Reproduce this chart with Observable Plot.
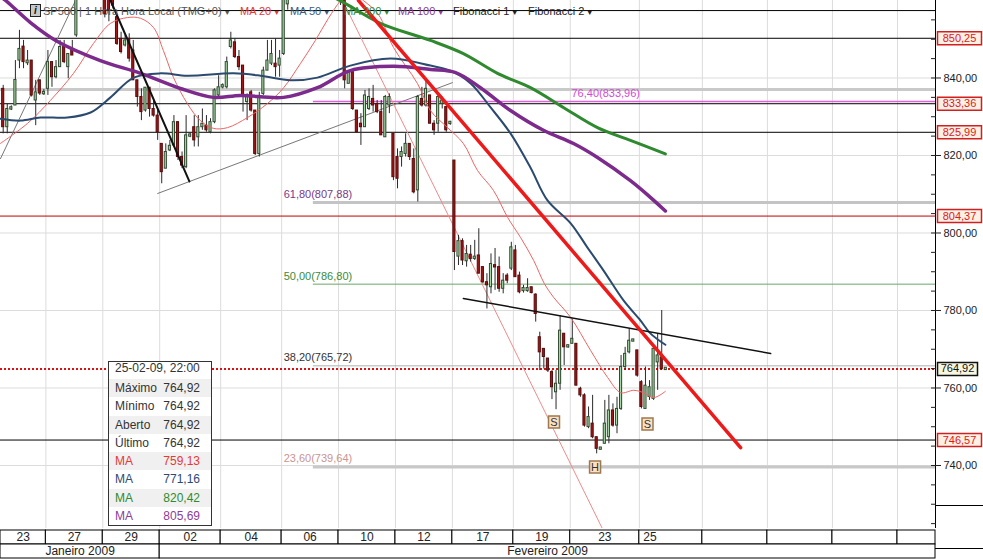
<!DOCTYPE html>
<html><head><meta charset="utf-8">
<script src="https://cdn.jsdelivr.net/npm/d3@7"></script>
<script src="https://cdn.jsdelivr.net/npm/@observablehq/plot@0.6"></script>
<style>
body{margin:0;background:#fff;font-family:"Liberation Sans",Arial,sans-serif;}
#wrap{position:relative;width:983px;height:560px;overflow:hidden;background:#fff;}
#wrap svg{display:block;}
#legend{position:absolute;top:3px;left:0;width:983px;height:16px;font-size:11px;white-space:nowrap;}
#legend span{position:absolute;top:0;line-height:16px;}
#legend .ic{top:1px;width:9px;height:11px;line-height:11px;border:1px solid #222;background:#c8c8c8;font-size:10px;font-style:italic;font-weight:bold;text-align:center;color:#111;}
.arr{font-size:7px;margin-left:2px;position:relative;top:-1px;}
#info{position:absolute;left:108px;top:361px;width:102px;border:1px solid #333;background:#fff;font-size:12px;color:#333;}
#info .r{height:18.3px;line-height:18.3px;padding:0 11px 0 6px;display:flex;justify-content:space-between;}
#info .r.h{height:17px;line-height:13px;}
#info .r.s{background:#f0f0f0;}
#rbox{position:absolute;left:935px;top:505px;width:48px;height:42px;border-top:1px solid #000;border-bottom:1px solid #000;}
</style></head>
<body><div id="wrap"></div>
<script>
// ---------- Data ----------
const opens = [
837.2,827.3,832.0,832.9,844.5,848.1,843.8,844.5,834.2,839.4,
836.0,837.2,844.1,840.2,842.8,848.0,842.8,847.5,851.0,863,
867,871,869,873,872,866,861,862,855.7,850.1,
848.4,850.1,847.1,839.4,835.1,831.6,837.5,832.0,830.3,823.0,
816.6,821.3,822.6,828.6,819.6,817.0,825.0,827.3,824.7,827.3,
827.7,826.0,828.6,835.5,837.8,837.6,848.0,849.2,845.4,843.2,
833.8,836.3,831.6,820.4,835.9,841.9,843.7,843.7,843.2,846.2,
859.0,864,866,865,868,867,869,866,868,870,
867,869,866,866,866,838.5,841.5,831.6,828.2,827.3,
832.0,834.6,833.3,831.2,824.7,832.9,825.6,819.6,819.6,820.4,
823.0,819.1,811.0,834.6,832.9,835.5,828.2,828.2,833.3,832.5,
828.2,818.7,793.9,797.9,792.7,794.4,793.3,794.2,791.2,787.3,
786.0,791.6,791.2,785.6,789.0,790.8,795.5,789.0,785.0,785.0,
786.0,784.1,773.1,770.1,767.6,764.1,758.9,761.1,774.0,770.6,
771.4,771.4,759.8,758.1,749.9,750.8,747.3,744.3,745.6,747.3,
754.2,750.3,754.6,765.4,769.2,772.2,769.7,761.5,754.6,757.7,
757.2,766.6,767.9,764.92];
const highs = [
838.1,833.3,832.8,844.5,852.3,849.7,847.1,844.5,839.4,839.4,
837.0,847.1,844.1,844.5,849.7,849.7,846.2,849.7,865.0,868,
873,874,875,876,874,868,862,863,856.5,851.8,
851.0,851.4,849.7,839.4,837.2,837.5,837.5,834.2,832.0,823.0,
823.0,823.9,830.3,828.6,820.9,830.3,825.8,830.3,830.3,832.0,
830.3,829.5,837.2,840.6,838.5,845.4,851.8,850.1,847.1,843.2,
835.9,836.8,831.6,836.3,842.8,849.7,849.7,850.1,847.1,863.0,
866,867,868,869,870,871,870,869,872,871,
870,870,869,867,867,841.5,841.9,831.6,830.8,836.8,
837.2,838.1,834.2,834.2,835.5,835.9,825.6,821.7,822.2,825.6,
823.0,821.7,835.5,837.6,839.4,835.5,829.0,835.9,835.1,832.5,
828.8,818.7,799.4,798.5,796.8,796.8,798.1,801.1,791.2,789.5,
794.6,796.0,793.8,789.5,789.5,797.6,796.8,789.9,786.5,788.2,
786.0,784.3,774.4,770.1,767.6,764.5,764.5,778.7,774.0,771.0,
777.8,771.4,760.2,758.5,755.1,758.1,747.3,744.6,756.8,758.1,
755.9,757.6,768.4,770.5,775.3,772.5,769.7,761.9,765.4,761.9,
770.5,774.0,780.0,764.92];
const lows = [
825.6,825.6,831.6,832.9,842.4,842.4,843.2,835.1,827.7,835.5,
835.5,835.5,837.6,839.8,842.8,843.7,839.8,845.8,850.5,862,
866,867,868,870,866,855.5,854.5,857.8,848.4,846.2,
848.0,844.1,839.4,832.5,829.0,831.2,829.9,829.9,823.9,812.7,
816.6,821.0,822.2,818.7,816.6,816.6,824.6,822.2,822.2,826.5,
826.0,825.6,828.2,835.1,837.2,837.2,847.5,845.0,841.9,831.2,
829.0,831.2,820.0,819.6,835.5,841.9,843.2,840.2,840.2,845.8,
857.5,863,864,864,866,866,865,864,867,866,
866,864,862,858.7,837.2,838.5,831.6,826.0,822.6,827.3,
831.6,831.2,830.8,825.2,824.7,830.8,813.5,811.4,817.0,819.6,
818.7,810.1,808.0,832.5,832.5,828.2,825.2,826.0,832.0,826.0,
827.8,790.3,791.6,791.6,791.2,792.5,792.9,789.5,786.9,780.4,
784.3,785.2,784.7,784.3,786.9,790.3,788.6,784.3,784.5,784.7,
784.3,777.0,764.5,764.9,764.0,757.0,754.4,759.4,765.8,770.3,
771.4,760.6,757.6,749.9,749.5,746.9,743.0,744.0,745.6,745.6,
749.9,748.2,754.2,764.5,768.8,772.0,762.8,754.6,754.6,756.8,
756.8,759.4,764.5,764.92];
const closes = [
827.3,832.0,832.3,839.5,847.5,844.1,844.5,835.5,836.3,836.0,
836.2,844.1,840.2,842.8,848.0,844.1,846.2,845.8,863.0,867,
871,869,873,872,868,856.5,857.5,858.7,848.8,846.7,
849.7,845.0,839.4,835.1,831.2,837.5,832.0,830.3,826.0,815.7,
820.9,822.5,828.6,819.6,817.4,825.2,825.3,823.9,827.3,828.2,
826.5,828.6,836.8,837.6,837.9,844.1,849.7,845.4,842.8,835.1,
835.1,831.6,820.4,835.1,841.9,844.5,846.2,842.8,845.0,861.0,
864,866,865,868,867,869,866,868,870,867,
869,866,868,862,839.4,841.5,832.0,826.0,827.3,835.5,
835.1,832.9,831.2,825.2,835.1,835.1,814.4,814.0,820.9,823.0,
819.6,810.5,835.1,832.9,837.2,828.2,826.5,835.1,834.2,826.5,
828.6,795.1,797.9,792.9,794.6,793.3,793.9,789.5,787.3,786.5,
792.0,791.2,785.6,787.7,787.7,796.3,788.6,784.7,785.8,785.8,
784.5,779.1,769.2,768.0,764.5,760.2,761.1,774.8,770.5,770.9,
772.7,760.6,758.1,750.3,752.5,747.3,744.3,744.4,750.8,754.2,
750.3,754.6,765.4,768.8,772.2,772.3,763.2,755.1,760.6,760.2,
770.1,768.4,764.9,764.92];

// moving averages read at sample points (bar index, value)
const ma20Idx = [-0.7,6.0,11.6,17.3,22.2,26.4,30.6,33.8,37.0,39.4,41.9,45.3,48.5,51.7,55.2,60.1,65.0,69.0,73.1,76.8,80.0,83.0,85.4,88.6,92.3,96.0,101.9,105.1,109.3,113.2,116.7,120.6,124.1,127.3,130.5,133.1,135.4,139.6,144.5,148.7,151.9,155.1,157.5,160.0,162.9];
const ma20Val = [823.1,828.3,834.2,841.2,848.9,854.1,855.6,855.4,853.0,847.1,840.1,833.4,829.0,827.0,827.2,829.8,833.4,837.5,843.7,849.7,855.4,860.0,862.5,860.0,856.4,847.9,838.6,831.6,827.2,823.1,816.1,811.0,804.0,798.8,792.9,787.0,783.4,778.2,769.7,762.7,758.8,759.4,758.8,757.5,759.13];
const ma50Idx = [-0.7,4.3,9.2,15.8,21.5,26.4,32.1,38.7,45.3,56.7,63.3,70.7,77.3,85.4,95.3,105.1,110.0,115.0,119.9,124.8,129.7,133.9,139.6,143.7,147.7,152.6,156.8,159.2,162.9];
const ma50Val = [829.5,829.0,829.8,829.8,831.1,835.0,840.1,841.2,840.6,841.2,840.6,839.4,840.1,843.2,845.0,843.2,841.9,838.6,832.4,825.7,816.9,808.4,802.5,796.3,790.3,782.6,777.4,774.1,771.16];
const ma100Idx = [-0.7,0.6,6.7,12.9,23.9,33.8,43.6,51.7,58.4,69.0,77.3,85.4,96.0,105.1,111.3,117.4,124.8,132.9,140.3,146.2,154.3,159.2,162.9];
const ma100Val = [861.0,860.0,854.3,849.7,844.5,841.2,837.3,835.0,835.5,835.0,837.5,841.9,843.0,842.2,841.4,837.5,831.6,826.5,823.1,819.5,813.5,809.2,805.69];
const ma200Idx = [80.0,83.7,92.8,105.1,113.2,121.6,129.7,137.8,146.2,154.3,162.9];
const ma200Val = [861.5,859.5,854.1,849.7,846.3,841.2,837.5,832.4,827.2,823.9,820.42];

// drawn trend lines: [bar index, price]
const redTrend = [[87.4, 860.0], [181.4, 744.6]];
const blackTrend = [[26.4, 860.0], [45.8, 813.3]];
const grayTrendA = [[-0.66, 819.2], [17.8, 860.0]];
const grayTrendB = [[38.0, 810.2], [110.5, 838.8]];
const neckline = [[113.2, 783.1], [188.8, 768.9]];
const channelLine = [[83.5, 860.0], [147.4, 723.7]];

// horizontal levels
const blackLevels = [857.4, 850.25, 833.36, 825.99, 746.57];
const redLevels = [804.37];
const grayLevels = [837.0];
const lastPrice = 764.92;
const axisRedBoxes = [850.25, 833.36, 825.99, 804.37, 746.57];

// Fibonacci levels
const fibPct = ["76,40", "61,80", "50,00", "38,20", "23,60"];
const fibVal = [833.96, 807.88, 786.80, 765.72, 739.64];
const fibStart = 76.3;
const fibLabelAt = [139.8, 69.0, 69.0, 69.0, 69.0];

// pattern markers
const markText = ["S", "H", "S"];
const markIdx = [135.5, 145.6, 158.5];
const markVal = [751.2, 739.6, 750.7];

// axes
const yMajor = [740, 760, 780, 800, 820, 840];
const yMinor = d3.range(725, 860, 5);
const daySeps = [10.5, 24.5, 38.5, 53.5, 68.5, 82.5, 96.5, 110.5, 125.5, 139.5, 156.5, 172, 188, 204, 220];
const dayLabels = ["23","27","29","02","04","06","10","12","17","19","23","25","","","",""];
const monthSeps = [38.5];
const monthLabels = ["Janeiro 2009", "Fevereiro 2009"];

// info box
const infoHeader = "25-02-09, 22:00";
const infoLabels = ["Máximo","Mínimo","Aberto","Último","MA","MA","MA","MA"];
const infoValues = [764.92, 764.92, 764.92, 764.92, 759.13, 771.16, 820.42, 805.69];

// legend
const legendTexts = ["SP500 | 1 Hora Hora Local (TMG+0)", "MA 20", "MA 50", "MA 200", "MA 100", "Fibonacci 1", "Fibonacci 2"];

// ---------- styles ----------
const C = {ma20:"#ef6464", ma50:"#2b4a6f", ma100:"#7d2a8d", ma200:"#2f8a2f", red:"#ee1a1a"};
const infoColors = ["#333","#333","#333","#333","#e53935","#2f4a74","#2e8b2e","#8b3d99"];
const fibColors = ["#d548d5","#7a3a8a","#3a8a3a","#333","#c99494"];
const fibLine = [{s:"#e060e0",w:1.5},{s:"#c4c4c4",w:3},{s:"#6aa66a",w:1},{s:"#b0b0b0",w:1},{s:"#c8c8c8",w:3}];
const legendColors = ["#555", "#e53935", "#3a5a80", "#2e8b2e", "#8b3d99", "#222", "#222"];
const legendLeft = [43, 240, 290, 344, 398, 453, 528];

const fmt = v => v.toFixed(2).replace(".", ",");
const xMin = -0.664, xMax = 229.35;
const W = 983, H = 528;

const bars = opens.map((o, i) => {
  const c = closes[i];
  let b0 = Math.min(o, c), b1 = Math.max(o, c);
  if (b1 - b0 < 0.5) { const m = (b0 + b1) / 2; b0 = m - 0.3; b1 = m + 0.3; }
  return {i, o, h: highs[i], l: lows[i], c, b0, b1};
});
const up = bars.filter(d => d.c >= d.o), down = bars.filter(d => d.c < d.o);
const pts = (xs, ys) => xs.map((x, k) => ({x, y: ys[k]}));
const boxSymbol = (w, h) => ({draw(ctx) { ctx.rect(-w / 2, -h / 2, w, h); }});
const seg = (arr, opts) => Plot.line(arr, {x: d => d[0], y: d => d[1], clip: true, ...opts});

const marks = [
  Plot.ruleY(yMajor, {stroke: "#dcdcdc"}),
  Plot.ruleX(daySeps, {stroke: "#dcdcdc"}),
  Plot.ruleY(grayLevels, {stroke: "#c9c9c9", strokeWidth: 3}),
  ...fibVal.map((v, k) => Plot.ruleY([v], {x1: () => fibStart, x2: () => xMax, stroke: fibLine[k].s, strokeWidth: fibLine[k].w})),
  Plot.ruleY(blackLevels, {stroke: "#000"}),
  Plot.ruleY(redLevels, {stroke: "#c00000"}),
  Plot.ruleY([lastPrice], {stroke: "#e01010", strokeWidth: 2, strokeDasharray: "2,2"}),
  ...fibVal.map((v, k) => Plot.text([v], {x: () => fibLabelAt[k], y: d => d, text: d => `${fibPct[k]}(${fmt(d)})`, textAnchor: "start", dy: -8, fill: fibColors[k], fontSize: 11})),
  seg(grayTrendA, {stroke: "#777", strokeWidth: 1}),
  seg(grayTrendB, {stroke: "#777", strokeWidth: 1}),
  seg(channelLine, {stroke: "#f08a8a", strokeWidth: 1}),
  Plot.ruleX(bars, {x: "i", y1: "l", y2: "h", stroke: "#2a2a2a", strokeWidth: 1, clip: true}),
  Plot.rect(up, {x1: d => d.i - 0.26, x2: d => d.i + 0.26, y1: "b0", y2: "b1", fill: "#a8dca8", stroke: "#2f4a2f", strokeWidth: 1, clip: true}),
  Plot.rect(down, {x1: d => d.i - 0.26, x2: d => d.i + 0.26, y1: "b0", y2: "b1", fill: "#a01818", stroke: "#5a0a0a", strokeWidth: 1, clip: true}),
  Plot.line(pts(ma20Idx, ma20Val), {x: "x", y: "y", stroke: C.ma20, strokeWidth: 1, curve: "catmull-rom", clip: true}),
  Plot.line(pts(ma50Idx, ma50Val), {x: "x", y: "y", stroke: C.ma50, strokeWidth: 2, curve: "catmull-rom", clip: true}),
  Plot.line(pts(ma100Idx, ma100Val), {x: "x", y: "y", stroke: C.ma100, strokeWidth: 3.5, curve: "catmull-rom", clip: true}),
  Plot.line(pts(ma200Idx, ma200Val), {x: "x", y: "y", stroke: C.ma200, strokeWidth: 3, curve: "catmull-rom", clip: true}),
  seg(blackTrend, {stroke: "#111", strokeWidth: 2}),
  seg(neckline, {stroke: "#111", strokeWidth: 1.5}),
  seg(redTrend, {stroke: C.red, strokeWidth: 3.5}),
  Plot.dot(markText, {x: (d, k) => markIdx[k], y: (d, k) => markVal[k], symbol: boxSymbol(11, 12), fill: "#fbe0c2", stroke: "#a0784f"}),
  Plot.text(markText, {x: (d, k) => markIdx[k], y: (d, k) => markVal[k], text: d => d, fill: "#333", fontSize: 11}),
  Plot.ruleX([xMax], {stroke: "#000"}),
  Plot.axisY(yMinor, {anchor: "right", tickSize: 5, dx: -5, tickFormat: () => "", label: null}),
  Plot.axisY(yMajor, {anchor: "right", tickSize: 5, tickPadding: 3, tickFormat: fmt, fontSize: 11, label: null}),
  Plot.dot(axisRedBoxes, {x: () => xMax, y: d => d, dx: 24, symbol: boxSymbol(44, 13), fill: "#fdf1e6", stroke: "#d02020"}),
  Plot.text(axisRedBoxes, {x: () => xMax, y: d => d, dx: 24, text: fmt, fill: "#e01818", fontSize: 11}),
  Plot.dot([lastPrice], {x: () => xMax, y: d => d, dx: 22, symbol: boxSymbol(40, 13), fill: "#f7f7e1", stroke: "#111"}),
  Plot.text([lastPrice], {x: () => xMax, y: d => d, dx: 22, text: fmt, fill: "#111", fontSize: 11})
];

const chart = Plot.plot({
  width: W, height: H,
  marginTop: 0, marginBottom: 0, marginLeft: 0, marginRight: 48,
  x: {domain: [xMin, xMax], axis: null},
  y: {domain: [723.74, 860]},
  style: {fontFamily: "Liberation Sans, Arial, sans-serif", fontSize: "11px", color: "#222", background: "white"},
  marks
});

// date band
const edges = [xMin, ...daySeps, xMax];
const dayCells = dayLabels.map((t, k) => ({x1: edges[k], x2: edges[k + 1], t, k}));
const lastLabeled = dayLabels.filter(t => t !== "").length - 1;
const mEdges = [xMin, ...monthSeps, xMax];
const monthCells = monthLabels.map((t, k) => ({x1: mEdges[k], x2: mEdges[k + 1], t}));

const dateBar = Plot.plot({
  width: W, height: 32,
  marginTop: 1, marginBottom: 2, marginLeft: 0, marginRight: 48,
  x: {domain: [xMin, xMax], axis: null},
  y: {type: "band", domain: ["d", "m"], padding: 0, axis: null},
  style: {fontFamily: "Liberation Sans, Arial, sans-serif", fontSize: "12px", color: "#222", background: "white"},
  marks: [
    Plot.barX(dayCells, {x1: "x1", x2: "x2", y: () => "d", fill: "white", stroke: "#000"}),
    Plot.barX(monthCells, {x1: "x1", x2: "x2", y: () => "m", fill: "white", stroke: "#000"}),
    Plot.text(dayCells.filter(d => d.k !== lastLabeled), {x: d => (d.x1 + d.x2) / 2, y: () => "d", text: "t", fontSize: 12, fill: "#222"}),
    Plot.text(dayCells.filter(d => d.k === lastLabeled), {x: "x1", y: () => "d", text: "t", textAnchor: "start", dx: 4, fontSize: 12, fill: "#222"}),
    Plot.text(monthCells, {x: d => (d.x1 + d.x2) / 2, y: () => "m", text: "t", fontSize: 12, fill: "#222"})
  ]
});

const wrap = document.getElementById("wrap");
wrap.appendChild(chart);
wrap.appendChild(dateBar);

// legend
const legend = document.createElement("div");
legend.id = "legend";
legend.innerHTML = `<span class="ic" style="left:30px">i</span>` +
  legendTexts.map((t, k) => `<span style="left:${legendLeft[k]}px;color:${legendColors[k]}">${t}<span class="arr" style="position:relative;color:${legendColors[k]}">▼</span></span>`).join("");
wrap.appendChild(legend);

// info box
const info = document.createElement("div");
info.id = "info";
info.innerHTML = `<div class="r h"><span>${infoHeader}</span></div>` +
  infoLabels.map((l, k) => `<div class="r${k % 2 === 0 ? " s" : ""}" style="color:${infoColors[k]}"><span>${l}</span><span>${fmt(infoValues[k])}</span></div>`).join("");
wrap.appendChild(info);

const rbox = document.createElement("div");
rbox.id = "rbox";
wrap.appendChild(rbox);
</script>
</body></html>
